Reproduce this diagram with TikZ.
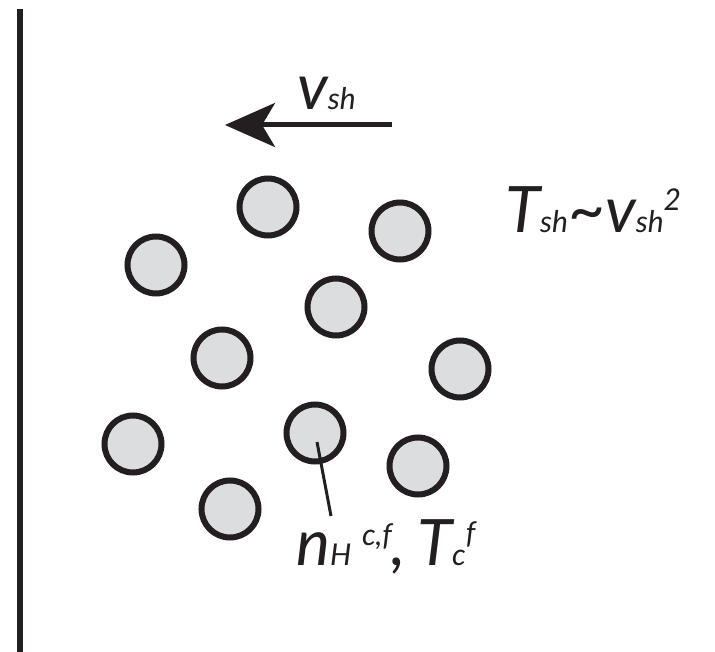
\documentclass[tikz,border=0pt]{standalone}
\usepackage{fontspec}
\setmainfont{Lato}
\usepackage{xcolor}
\usetikzlibrary{arrows.meta}
\definecolor{pink}{HTML}{231F20}
\definecolor{grain}{HTML}{DCDDDF}
\newcommand{\lowsub}[1]{{\fontsize{30}{32}\selectfont #1}}
\newcommand{\highsup}[2]{\raisebox{#1}{\fontsize{30}{32}\selectfont #2}}

\begin{document}
\begin{tikzpicture}[x=1pt,y=-1pt,
  grainball/.style={circle,draw=pink,fill=grain,line width=6pt,minimum size=57pt,inner sep=0pt},
  lab/.style={anchor=base west,inner sep=0pt,text=pink,font=\fontsize{64}{68}\selectfont\itshape}]
  \useasboundingbox (0,0) rectangle (715,652);

  % wall
  \coordinate (wtop) at (20,9);
  \coordinate (wbot) at (20,652);
  \draw[pink,line width=6pt] (wtop) -- (wbot);

  % shock velocity
  \coordinate (vtail) at (392,125);
  \coordinate (vtip) at (225,125);
  \draw[pink,line width=5pt,-{Stealth[length=50pt,width=44pt,inset=13pt]}] (vtail) -- (vtip);
  \node[lab] (vlab) at (297,110) {v\lowsub{sh}};

  % clouds: {name}/{x}/{y}
  \foreach \n/\cx/\cy in {c1/268/207, c2/400/231, c3/156/265, c4/336/307,
    c5/222/358, c6/460/369, c7/133/444, c8/315/433, c9/418/466, c10/230/509}{
    \node[grainball] (\n) at (\cx,\cy) {};
  }

  % labels
  \node[lab] (tlab) at (505,233) {T\lowsub{sh}\textasciitilde v\lowsub{sh}\highsup{22pt}{2}};
  \node[lab] (nlab) at (296,565) {n\lowsub{H}\,\highsup{20pt}{c,f},\kern-4pt\ T\lowsub{c}\highsup{22pt}{f}};
  \coordinate (ptr) at (331,516);
  \draw[pink,line width=3pt] ([xshift=2pt,yshift=-9pt]c8.center) -- (ptr);
\end{tikzpicture}
\end{document}
